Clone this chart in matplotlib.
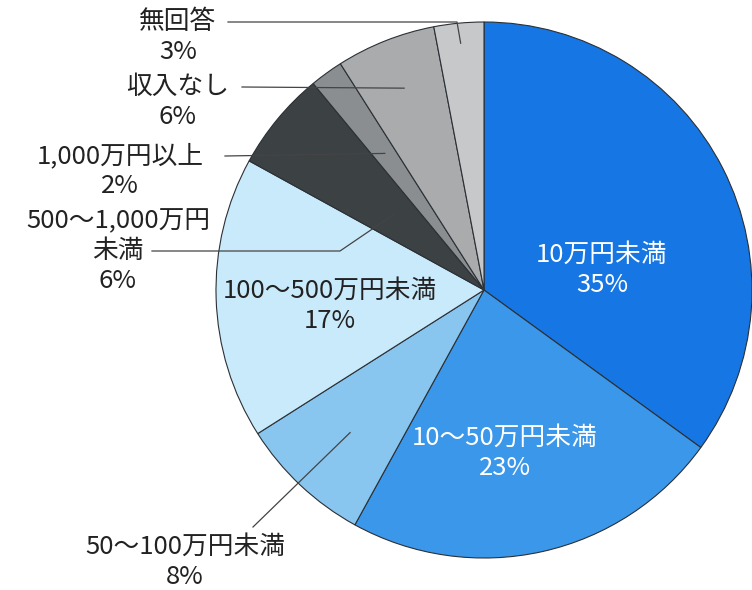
import numpy as np
from matplotlib import pyplot as plt

plt.rcParams['font.family'] = ['Noto Sans CJK JP', 'DejaVu Sans']

# data, clockwise from 12 o'clock
categories = ['10万円未満', '10～50万円未満', '50～100万円未満', '100～500万円未満',
              '500～1,000万円\n未満', '1,000万円以上', '収入なし', '無回答']
shares = [35, 23, 8, 17, 6, 2, 6, 3]
colors = ['#1576e4', '#3b97ea', '#88c6f0', '#c9eafa',
          '#3c4144', '#8b8e90', '#a9abad', '#c7c8ca']

W, H = 752, 590
CX, CY, R = 484, H - 290, 268

fig = plt.figure(figsize=(W / 100, H / 100), dpi=100)
ax = fig.add_axes([0, 0, 1, 1])

wedges, _ = ax.pie(shares, colors=colors, startangle=90, counterclock=False,
                   center=(CX, CY), radius=R, frame=True,
                   wedgeprops=dict(edgecolor='#2b3035', linewidth=0.8))
ax.set_xlim(0, W)
ax.set_ylim(0, H)
ax.set_aspect('equal')
ax.axis('off')


def inside(i, frac):
    w = wedges[i]
    a = np.deg2rad((w.theta1 + w.theta2) / 2)
    return CX + R * frac * np.cos(a), CY + R * frac * np.sin(a)


fs = 18.5
dark = '#222222'
ls = 1.2

# labels inside the pie: (index, x, y, colour)
inner = [(0, 602, 270, 'white'), (1, 505, 453, 'white'), (3, 330, 306, dark)]
for i, x, y, c in inner:
    ax.text(x, H - y, f'{categories[i]}\n{shares[i]}%', color=c, fontsize=fs,
            ha='center', va='center', linespacing=ls)

# labels outside with leader lines: (index, text x, text y, line start, elbow, radius frac)
outer = [
    (7, 178, 37, (228, 22), (457, 22), 0.925),
    (6, 178, 102, (242, 87), None, 0.81),
    (5, 120, 171, (225, 156), None, 0.63),
    (4, 118, 251, (152, 251), (340, 251), 0.44),
    (2, 185, 562, (253, 527), None, 0.73),
]
for i, x, y, start, elbow, frac in outer:
    ax.text(x, H - y, f'{categories[i]}\n{shares[i]}%', color=dark, fontsize=fs,
            ha='center', va='center', linespacing=ls)
    pts = [(start[0], H - start[1])]
    if elbow is not None:
        pts.append((elbow[0], H - elbow[1]))
    pts.append(inside(i, frac))
    xs, ys = zip(*pts)
    ax.plot(xs, ys, color='#444444', linewidth=0.9)

fig.savefig('out.png', dpi=100)
